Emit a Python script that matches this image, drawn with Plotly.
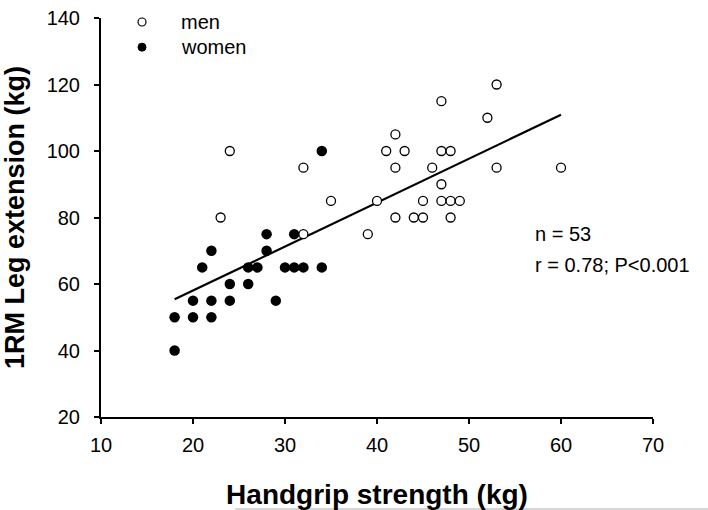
import plotly.graph_objects as go

# ---- data ----
men_x = [23, 24, 32, 32, 35, 39, 40, 41, 42, 42, 42, 43, 44, 45, 45, 46, 47, 47, 47, 47, 48, 48, 48, 49, 52, 53, 53, 60]
men_y = [80, 100, 75, 95, 85, 75, 85, 100, 80, 95, 105, 100, 80, 80, 85, 95, 85, 90, 100, 115, 80, 85, 100, 85, 110, 95, 120, 95]

women_x = [18, 18, 20, 20, 21, 22, 22, 22, 24, 24, 26, 26, 27, 28, 28, 29, 30, 31, 31, 32, 34, 34]
women_y = [40, 50, 50, 55, 65, 50, 55, 70, 55, 60, 60, 65, 65, 70, 75, 55, 65, 65, 75, 65, 65, 100]

fit_x = [18, 60]
fit_y = [55.4, 110.9]

x_ticks = [10, 20, 30, 40, 50, 60, 70]
y_ticks = [20, 40, 60, 80, 100, 120, 140]

legend_labels = ["men", "women"]
stats_lines = ["n = 53", "r = 0.78; P<0.001"]

FONT = "Liberation Sans, Arial, sans-serif"

fig = go.Figure()

fig.add_trace(go.Scatter(
    x=fit_x, y=fit_y, mode="lines",
    line=dict(color="black", width=2.2),
    showlegend=False, hoverinfo="skip"))

fig.add_trace(go.Scatter(
    x=women_x, y=women_y, mode="markers", name="women",
    marker=dict(symbol="circle", size=10.5, color="black",
                line=dict(color="black", width=0)),
    showlegend=False))

fig.add_trace(go.Scatter(
    x=men_x, y=men_y, mode="markers", name="men",
    marker=dict(symbol="circle", size=9, color="white",
                line=dict(color="black", width=1.3)),
    showlegend=False))

# custom legend (symbols + labels)
leg_y = [0.990, 0.927]
fig.add_shape(type="circle", xref="paper", yref="paper",
              xsizemode="pixel", ysizemode="pixel",
              xanchor=0.0743, yanchor=leg_y[0], x0=-4, x1=4, y0=-4, y1=4,
              line=dict(color="black", width=1.2), fillcolor="white")
fig.add_shape(type="circle", xref="paper", yref="paper",
              xsizemode="pixel", ysizemode="pixel",
              xanchor=0.0743, yanchor=leg_y[1], x0=-4, x1=4, y0=-4, y1=4,
              line=dict(color="black", width=1), fillcolor="black")
for lab, yy in zip(legend_labels, leg_y):
    fig.add_annotation(text=lab, xref="paper", yref="paper",
                       x=0.141, y=yy, xanchor="left", yanchor="middle",
                       showarrow=False, font=dict(family=FONT, size=20, color="black"))

# stats text
for txt, yy in zip(stats_lines, [0.4576, 0.38]):
    fig.add_annotation(text=txt, xref="paper", yref="paper",
                       x=0.783, y=yy, xanchor="left", yanchor="middle",
                       showarrow=False, font=dict(family=FONT, size=20, color="black"))

# faint grey line at bottom of the image
fig.add_shape(type="line", xref="paper", yref="paper",
              x0=0.243, x1=1.2, y0=-0.2306, y1=-0.2306,
              line=dict(color="#c8c8c8", width=1.5))

axis_common = dict(
    showgrid=False, zeroline=False, showline=True,
    linecolor="black", linewidth=2,
    ticks="outside", ticklen=5, tickwidth=1.5, tickcolor="black",
    tickfont=dict(family=FONT, size=20, color="black"),
)

fig.update_xaxes(
    range=[10, 70], tickvals=x_ticks, ticktext=[str(v) for v in x_ticks],
    ticklabelstandoff=4,
    title=dict(text="<b>Handgrip strength (kg)</b>",
               font=dict(family=FONT, size=28, color="black"), standoff=29),
    **axis_common)
fig.update_yaxes(
    range=[20, 140], tickvals=y_ticks, ticktext=[str(v) for v in y_ticks],
    ticklabelstandoff=10,
    title=dict(text="<b>1RM Leg extension (kg)</b>",
               font=dict(family=FONT, size=27, color="black"), standoff=14),
    **axis_common)

fig.update_layout(
    width=708, height=510,
    margin=dict(l=101, r=55, t=18, b=93, autoexpand=False),
    plot_bgcolor="white", paper_bgcolor="white",
    showlegend=False,
)

fig.write_html("out.html",
               config={"displayModeBar": False},
               post_script="document.body.style.margin='0';document.body.style.padding='0';")
